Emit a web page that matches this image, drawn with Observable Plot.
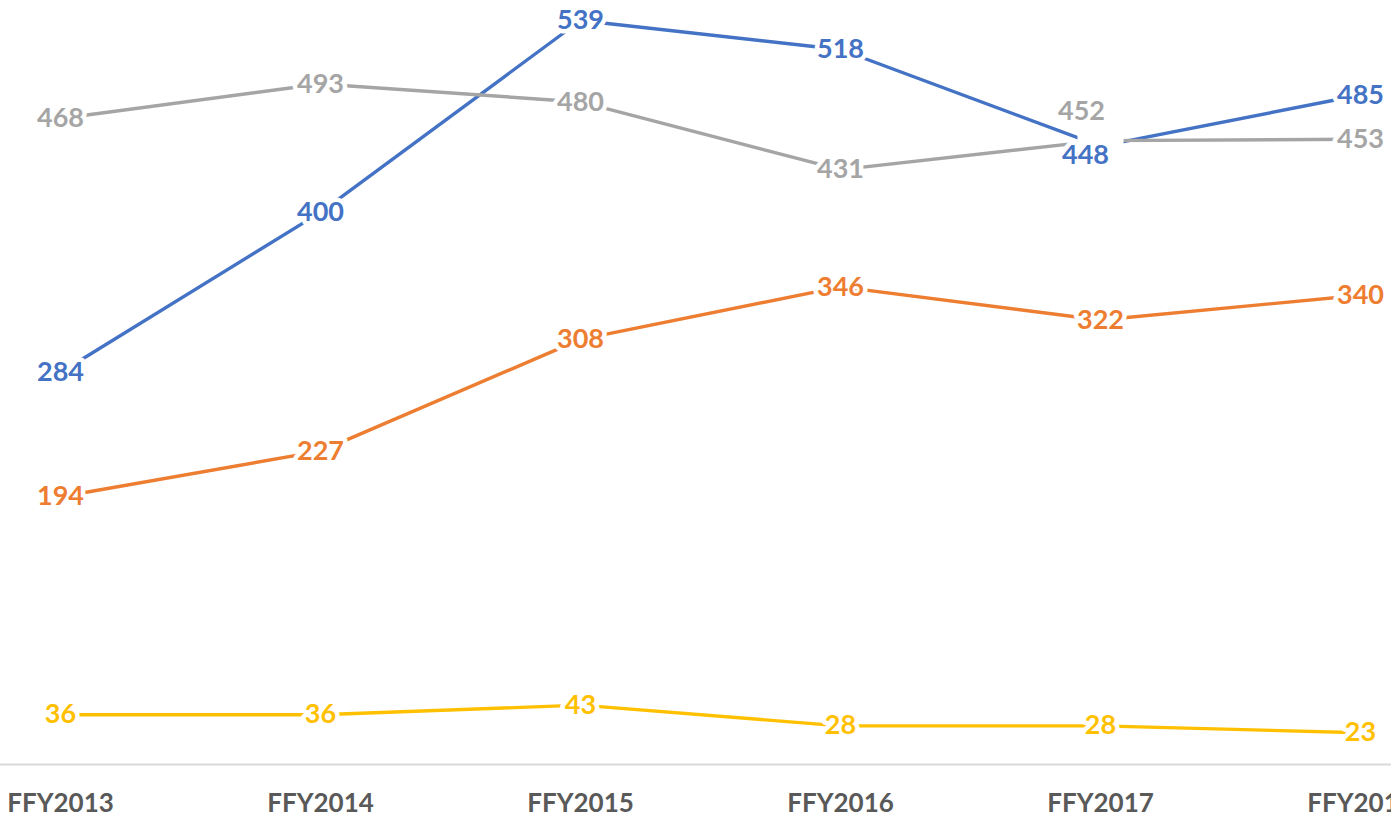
<!DOCTYPE html>
<html>
<head>
<meta charset="utf-8">
<script src="https://cdn.jsdelivr.net/npm/d3@7"></script>
<script src="https://cdn.jsdelivr.net/npm/@observablehq/plot@0.6"></script>
<style>
  html, body { margin: 0; padding: 0; background: #ffffff; overflow: hidden; }
  #chart svg { display: block; }
  #chart [aria-label="x-axis tick label"] text { font-weight: bold; }
</style>
</head>
<body>
<div id="chart"></div>
<script>
// ---- data ----
const years = ["FFY2013", "FFY2014", "FFY2015", "FFY2016", "FFY2017", "FFY2018"];
const seriesNames = ["Series 1", "Series 2", "Series 3", "Series 4"];
const series1Values = [284, 400, 539, 518, 448, 485];
const series2Values = [194, 227, 308, 346, 322, 340];
const series3Values = [468, 493, 480, 431, 452, 453];
const series4Values = [36, 36, 43, 28, 28, 23];
const seriesColors = ["#4472C4", "#ED7D31", "#A5A5A5", "#FFC000"];

const allValues = [series1Values, series2Values, series3Values, series4Values];
const data = seriesNames.flatMap((s, j) =>
  years.map((yr, i) => ({ year: yr, series: s, value: allValues[j][i] }))
);

// labels moved around the FFY2017 crossing
const isCross = d => d.year === "FFY2017" && (d.series === "Series 1" || d.series === "Series 3");
const normalLabels = data.filter(d => !isCross(d));
const upperLabel = data.filter(d => d.year === "FFY2017" && d.series === "Series 3");
const lowerLabel = data.filter(d => d.year === "FFY2017" && d.series === "Series 1");
const crossMask = [{ year: "FFY2017", value: (series1Values[4] + series3Values[4]) / 2 }];

const labelOpts = {
  x: "year", y: "value", text: d => String(d.value),
  fill: "series", stroke: "white", strokeWidth: 9, paintOrder: "stroke",
  fontSize: 27, fontWeight: "bold"
};

const chart = Plot.plot({
  width: 1391,
  height: 818,
  marginTop: 20,
  marginBottom: 54,
  marginLeft: 59,
  marginRight: 31,
  style: { fontFamily: "Lato, 'Open Sans', sans-serif", background: "#ffffff" },
  x: { type: "point", domain: years, padding: 0, label: null },
  y: { domain: [0, 539], axis: null },
  color: { domain: seriesNames, range: seriesColors },
  marks: [
    Plot.ruleY([0], { stroke: "#D9D9D9", strokeWidth: 2, insetLeft: -59, insetRight: -31 }),
    Plot.axisX({ tickSize: 0, tickPadding: 29, fontSize: 26, fontWeight: "bold", fill: "#595959", label: null }),
    Plot.lineY(data, { x: "year", y: "value", z: "series", stroke: "series", strokeWidth: 3.4 }),
    Plot.dot(crossMask, { x: "year", y: "value", symbol: "square", r: 26, fill: "white", stroke: null }),
    Plot.text(normalLabels, labelOpts),
    Plot.text(upperLabel, { ...labelOpts, dx: -19, dy: -29 }),
    Plot.text(lowerLabel, { ...labelOpts, dx: -15, dy: 9 })
  ]
});

document.getElementById("chart").appendChild(chart);
</script>
</body>
</html>
